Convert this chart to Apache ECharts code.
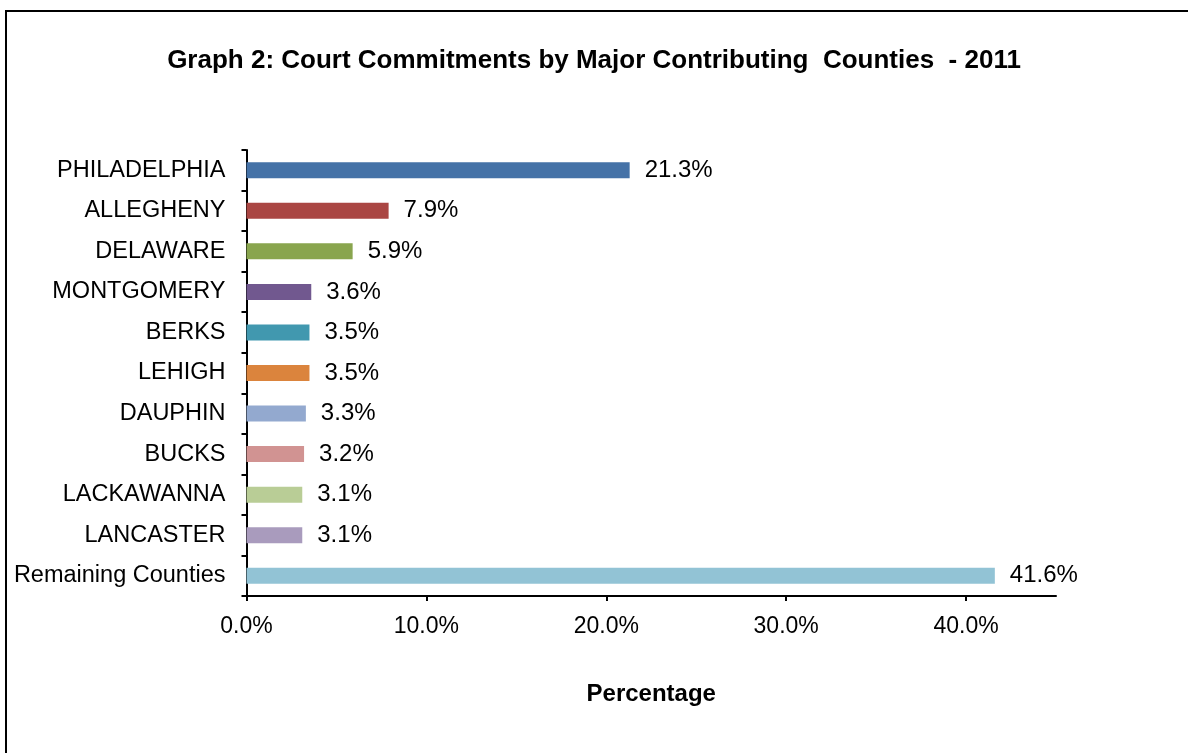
<!DOCTYPE html>
<html><head><meta charset="utf-8">
<script src="https://cdn.jsdelivr.net/npm/echarts@6/dist/echarts.min.js"></script>
<style>html,body{margin:0;padding:0;background:#fff}#c{width:1188px;height:753px}</style>
</head><body><div id="c"></div>
<script>
const categories = ["PHILADELPHIA","ALLEGHENY","DELAWARE","MONTGOMERY","BERKS","LEHIGH","DAUPHIN","BUCKS","LACKAWANNA","LANCASTER","Remaining Counties"];
const values = [21.3, 7.9, 5.9, 3.6, 3.5, 3.5, 3.3, 3.2, 3.1, 3.1, 41.6];
const colors = ["#4572A7","#AA4643","#89A54E","#71588F","#4198AF","#DB843D","#93A9CF","#D19392","#B9CD96","#A99BBD","#92C3D5"];
const xTicks = [0, 10, 20, 30, 40];
const titleText = "Graph 2: Court Commitments by Major Contributing  Counties  - 2011";
const xName = "Percentage";

const font = "'Liberation Sans', Arial, sans-serif";
const chart = echarts.init(document.getElementById('c'));
chart.setOption({
  animation: false,
  backgroundColor: '#fff',
  title: { text: titleText, left: 'center', top: 43,
    textStyle: { fontFamily: font, fontSize: 26, fontWeight: 'bold', color: '#000' } },
  graphic: [{ type: 'rect', shape: { x: 6, y: 11, width: 1300, height: 900 },
    style: { fill: null, stroke: '#000', lineWidth: 2 }, silent: true, z: 100 }],
  grid: { left: 246.5, right: 132, top: 150, bottom: 157, containLabel: false },
  xAxis: {
    type: 'value', min: 0, max: 45, interval: 10,
    name: xName, nameLocation: 'middle', nameGap: 86,
    nameTextStyle: { fontFamily: font, fontSize: 24, fontWeight: 'bold', color: '#000' },
    axisLine: { show: true, lineStyle: { color: '#000', width: 2 } },
    axisTick: { show: true, length: 5, lineStyle: { color: '#000', width: 2 }, customValues: xTicks },
    axisLabel: { customValues: xTicks, margin: 19, fontFamily: font, fontSize: 23, color: '#000',
      formatter: v => v.toFixed(1) + '%' },
    splitLine: { show: false }
  },
  yAxis: {
    type: 'category', data: categories, inverse: true,
    axisLine: { show: true, lineStyle: { color: '#000', width: 2 } },
    axisTick: { show: true, length: 5, lineStyle: { color: '#000', width: 2 } },
    axisLabel: { margin: 21, fontFamily: font, fontSize: 23.5, color: '#000' }
  },
  series: [{
    type: 'bar', barWidth: 16,
    data: values.map((v, i) => ({ value: v, itemStyle: { color: colors[i] } })),
    label: { show: true, position: 'right', distance: 15, fontFamily: font, fontSize: 24, color: '#000',
      formatter: p => p.value.toFixed(1) + '%' }
  }]
});
</script></body></html>
